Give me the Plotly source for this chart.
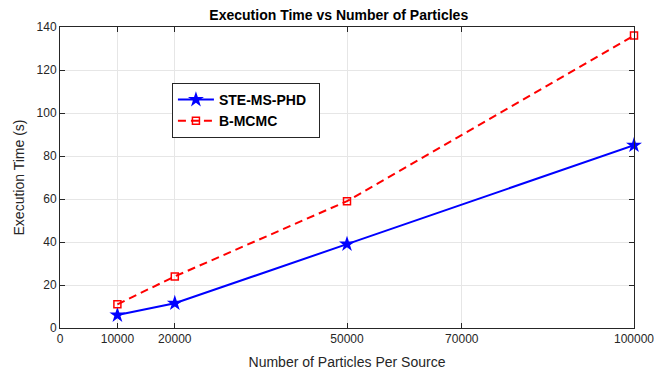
import plotly.graph_objects as go

particles = [10000, 20000, 50000, 100000]
ste_ms_phd = [6, 11.5, 39, 85]
b_mcmc = [11, 24, 59, 136]
x_ticks = [0, 10000, 20000, 50000, 70000, 100000]
y_ticks = [0, 20, 40, 60, 80, 100, 120, 140]

FONT = "Liberation Sans, Arial"

fig = go.Figure()
fig.add_trace(go.Scatter(
    x=particles, y=ste_ms_phd, name="<b>STE-MS-PHD</b>&nbsp;&nbsp;", mode="lines+markers",
    line=dict(color="#0000ff", width=2),
    marker=dict(symbol="star", size=12, color="#0000ff"),
    cliponaxis=False,
))
fig.add_trace(go.Scatter(
    x=particles, y=b_mcmc, name="<b>B-MCMC</b>", mode="lines+markers",
    line=dict(color="#ff0000", width=2, dash="8px,5px"),
    marker=dict(symbol="square-open", size=7, color="#ff0000", line=dict(width=1.5)),
    cliponaxis=False,
))

axis_common = dict(
    showline=True, linecolor="#262626", linewidth=1, mirror="ticks",
    ticks="inside", ticklen=5, tickcolor="#262626",
    showgrid=True, gridcolor="#e6e6e6", gridwidth=1, zeroline=False,
    automargin=False, ticklabeloverflow="allow",
    tickfont=dict(family=FONT, size=12, color="#262626"),
)

fig.update_layout(
    width=654, height=373,
    margin=dict(l=60, r=20, t=27, b=45),
    paper_bgcolor="white", plot_bgcolor="white",
    title=dict(text="<b>Execution Time vs Number of Particles</b>", x=0.518, xanchor="center",
               y=0.96, yanchor="middle",
               font=dict(family=FONT, size=14, color="black")),
    xaxis=dict(range=[0, 100000], tickvals=x_ticks, ticktext=[str(v) for v in x_ticks],
               title=dict(text="Number of Particles Per Source", standoff=11,
                          font=dict(family=FONT, size=14, color="#262626")),
               **axis_common),
    yaxis=dict(range=[0, 140], tickvals=y_ticks,
               title=dict(text="Execution Time (s)", standoff=8,
                          font=dict(family=FONT, size=14, color="#262626")),
               **axis_common),
    legend=dict(x=0.195, y=0.814, xanchor="left", yanchor="top",
                bgcolor="white", bordercolor="#262626", borderwidth=1,
                font=dict(family=FONT, size=14, color="black"),
                tracegroupgap=0, itemwidth=36),
    showlegend=True,
)

fig.write_html("out.html")
